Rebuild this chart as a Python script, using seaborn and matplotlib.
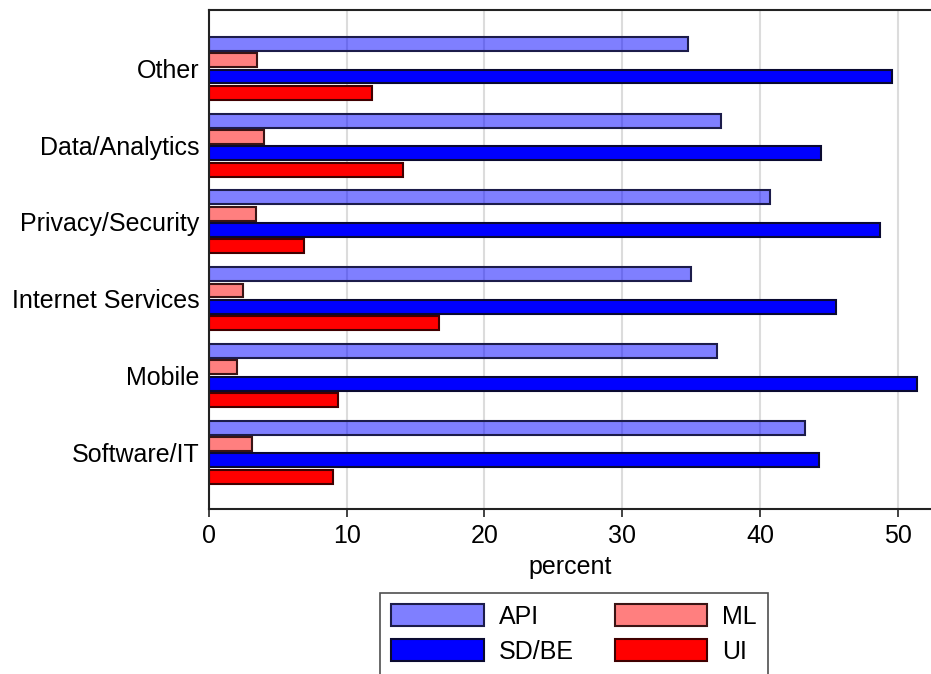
import numpy as np
import pandas as pd
import matplotlib
matplotlib.use("Agg")
import matplotlib.pyplot as plt
import seaborn as sns

# categories, top to bottom
categories = ["Other", "Data/Analytics", "Privacy/Security",
              "Internet Services", "Mobile", "Software/IT"]
series = ["API", "ML", "SD/BE", "UI"]

api = [34.8, 37.2, 40.7, 35.0, 36.9, 43.3]
ml = [3.5, 4.0, 3.4, 2.5, 2.0, 3.1]
sd_be = [49.6, 44.4, 48.7, 45.5, 51.4, 44.3]
ui = [11.8, 14.1, 6.9, 16.7, 9.4, 9.0]

xticks = [0, 10, 20, 30, 40, 50]

df = pd.DataFrame({
    "category": categories * 4,
    "series": [s for s in series for _ in categories],
    "percent": api + ml + sd_be + ui,
})

face = {"API": (0, 0, 1, 0.5), "ML": (1, 0, 0, 0.5),
        "SD/BE": (0, 0, 1, 1), "UI": (1, 0, 0, 1)}
edge = {"API": "#1c1c4a", "ML": "#3a1414", "SD/BE": "#0a0a30", "UI": "#400000"}

sns.set_theme(style="white")
plt.rcParams["font.family"] = ["Liberation Sans", "DejaVu Sans"]
plt.rcParams["text.color"] = "black"
plt.rcParams["axes.labelcolor"] = "black"
plt.rcParams["xtick.color"] = "black"
plt.rcParams["ytick.color"] = "black"

fs = 18

fig = plt.figure(figsize=(9.31, 6.74), dpi=100)
ax = fig.add_axes([0.2245, 0.2448, 0.776, 0.7404])

sns.barplot(data=df, x="percent", y="category", hue="series",
            order=categories, hue_order=series, orient="h",
            width=0.85, gap=0.15, palette=["blue", "red", "blue", "red"],
            legend=False, ax=ax)

for s, cont in zip(series, ax.containers):
    for p in cont:
        p.set_facecolor(face[s])
        p.set_edgecolor(edge[s])
        p.set_linewidth(1.5)

ax.set_xlim(0, 52.45)
ax.set_ylim(5.74, -0.76)
ax.set_xticks(xticks)
ax.set_xticklabels([str(t) for t in xticks])
ax.grid(axis="x", color="#dcdcdc", linewidth=1.5)
ax.set_axisbelow(True)
ax.set_ylabel("")
ax.set_xlabel("percent", fontsize=fs, labelpad=5)
ax.tick_params(axis="x", labelsize=fs, length=6, width=1.2, direction="out",
               bottom=True, color="#222222", pad=5)
ax.tick_params(axis="y", labelsize=fs, length=0, pad=7)

for side in ["left", "top", "bottom"]:
    ax.spines[side].set_color("#222222")
    ax.spines[side].set_linewidth(1.5)
ax.spines["right"].set_visible(False)

handles = [ax.containers[i][0] for i in [0, 2, 1, 3]]
labels = [series[i] for i in [0, 2, 1, 3]]
leg = fig.legend(handles, labels, ncol=2, loc="upper center",
                 bbox_to_anchor=(0.6165, 0.139), fontsize=fs,
                 frameon=True, fancybox=False, edgecolor="#222222",
                 handlelength=3.7, handleheight=1.0, handletextpad=0.6,
                 columnspacing=1.65, borderpad=0.45, labelspacing=0.4)
leg.get_frame().set_linewidth(1.2)

fig.savefig("out.png", dpi=100)
